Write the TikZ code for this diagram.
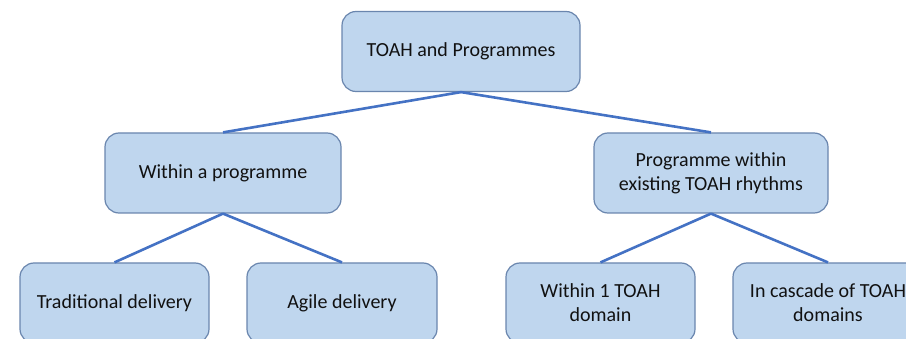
\documentclass[tikz,border=0pt]{standalone}
\usepackage{fontspec}
\setmainfont{Carlito}
\definecolor{boxfill}{HTML}{BFD6EE}
\definecolor{boxline}{HTML}{6A86AE}
\definecolor{linkcol}{HTML}{4472C4}
\definecolor{txt}{HTML}{111111}
\begin{document}
\begin{tikzpicture}[x=1pt,y=-1pt,
  box/.style={draw=boxline,line width=1.2pt,fill=boxfill,rounded corners=14pt,
    minimum height=80pt,align=center,text=txt,inner sep=2pt,
    font=\fontsize{20}{24}\selectfont},
  link/.style={draw=linkcol,line width=2.6pt}]
\useasboundingbox (0,0) rectangle (906,339);
\clip (0,0) rectangle (906,339);
\node[box,minimum width=238pt] (top) at (461,51.5) {TOAH and Programmes};
\node[box,minimum width=236pt] (lm) at (223,173) {Within a programme};
\node[box,minimum width=234pt] (rm) at (711,173) {Programme within\\existing TOAH rhythms};
\node[box,minimum width=189pt] (trad) at (114.5,303) {Traditional delivery};
\node[box,minimum width=190pt] (agile) at (342,303) {Agile delivery};
\node[box,minimum width=189pt] (w1) at (600.5,303) {Within 1 TOAH\\domain};
\node[box,minimum width=190pt] (casc) at (828,303) {In cascade of TOAH\\domains};
\draw[link] (top.south) -- (lm.north);
\draw[link] (top.south) -- (rm.north);
\draw[link] (lm.south) -- (trad.north);
\draw[link] (lm.south) -- (agile.north);
\draw[link] (rm.south) -- (w1.north);
\draw[link] (rm.south) -- (casc.north);
\end{tikzpicture}
\end{document}
